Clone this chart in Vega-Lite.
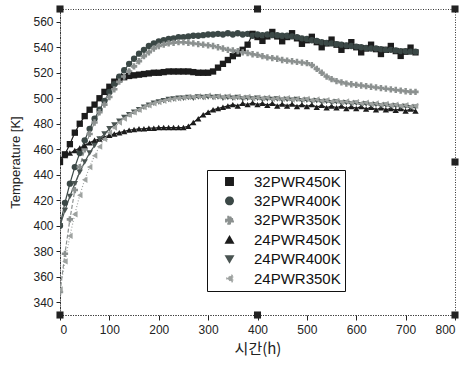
{
  "$schema": "https://vega.github.io/schema/vega-lite/v6.json",
  "width": 395,
  "height": 306,
  "autosize": {"type": "none"},
  "padding": {"left": 60, "top": 9, "right": 7, "bottom": 51},
  "background": "white",
  "config": {
    "font": "Liberation Sans, Noto Sans CJK KR",
    "view": {"stroke": "#333", "strokeDash": [1, 1.5], "strokeWidth": 1},
    "axis": {"domainColor": "#333", "domainDash": [1, 1.5], "tickColor": "#222", "labelColor": "#222", "titleColor": "#222", "grid": false, "labelFont": "Liberation Sans", "titleFontWeight": "normal", "labelOverlap": false},
    "axisY": {"labelOverlap": false}
  },
  "encoding": {
    "x": {"field": "t", "type": "quantitative", "scale": {"domain": [0, 800], "nice": false},
      "axis": {"values": [0,100,200,300,400,500,600,700,800], "title": "시간(h)", "titleFont": "Noto Sans CJK KR", "titleFontSize": 15, "labelFontSize": 12, "tickSize": 5, "labelPadding": 4, "titlePadding": 6, "labelOverlap": false}},
    "y": {"field": "temp", "type": "quantitative", "scale": {"domain": [330, 570], "nice": false, "zero": false},
      "axis": {"values": [340,360,380,400,420,440,460,480,500,520,540,560], "title": "Temperature [K]", "titleFontSize": 13, "labelFontSize": 12, "tickSize": 4, "labelPadding": 3, "titlePadding": 10, "labelOverlap": false, "labelFlush": false}}
  },
  "datasets": {
    "series": [
      {"t":0,"32PWR450K":450,"32PWR400K":400,"32PWR350K":348,"24PWR450K":453,"24PWR400K":400,"24PWR350K":350},
      {"t":10,"32PWR450K":456,"32PWR400K":418,"32PWR350K":378,"24PWR450K":455,"24PWR400K":412,"24PWR350K":372},
      {"t":20,"32PWR450K":464,"32PWR400K":433,"32PWR350K":405,"24PWR450K":457,"24PWR400K":423,"24PWR350K":392},
      {"t":30,"32PWR450K":473,"32PWR400K":446,"32PWR350K":428,"24PWR450K":459,"24PWR400K":433,"24PWR350K":409},
      {"t":40,"32PWR450K":480,"32PWR400K":457,"32PWR350K":446,"24PWR450K":461,"24PWR400K":442,"24PWR350K":424},
      {"t":50,"32PWR450K":486,"32PWR400K":467,"32PWR350K":460,"24PWR450K":463,"24PWR400K":450,"24PWR350K":436},
      {"t":60,"32PWR450K":491,"32PWR400K":476,"32PWR350K":472,"24PWR450K":465,"24PWR400K":457,"24PWR350K":446},
      {"t":70,"32PWR450K":495,"32PWR400K":484,"32PWR350K":481,"24PWR450K":467,"24PWR400K":463,"24PWR350K":455},
      {"t":80,"32PWR450K":500,"32PWR400K":491,"32PWR350K":489,"24PWR450K":468,"24PWR400K":468,"24PWR350K":462},
      {"t":90,"32PWR450K":505,"32PWR400K":498,"32PWR350K":495,"24PWR450K":469.5,"24PWR400K":472,"24PWR350K":468},
      {"t":100,"32PWR450K":509,"32PWR400K":505,"32PWR350K":501,"24PWR450K":471,"24PWR400K":476,"24PWR350K":473},
      {"t":110,"32PWR450K":513,"32PWR400K":511,"32PWR350K":507,"24PWR450K":472,"24PWR400K":479,"24PWR350K":477},
      {"t":120,"32PWR450K":515,"32PWR400K":517,"32PWR350K":513,"24PWR450K":473,"24PWR400K":482,"24PWR350K":481},
      {"t":130,"32PWR450K":516.5,"32PWR400K":522,"32PWR350K":517,"24PWR450K":474,"24PWR400K":485,"24PWR350K":484},
      {"t":140,"32PWR450K":517.5,"32PWR400K":527,"32PWR350K":521,"24PWR450K":475,"24PWR400K":487,"24PWR350K":487},
      {"t":150,"32PWR450K":518,"32PWR400K":531,"32PWR350K":525,"24PWR450K":475.5,"24PWR400K":489,"24PWR350K":489},
      {"t":160,"32PWR450K":518.5,"32PWR400K":535,"32PWR350K":529,"24PWR450K":476,"24PWR400K":491,"24PWR350K":491},
      {"t":170,"32PWR450K":519,"32PWR400K":538,"32PWR350K":533,"24PWR450K":476,"24PWR400K":493,"24PWR350K":493},
      {"t":180,"32PWR450K":519.5,"32PWR400K":541,"32PWR350K":536,"24PWR450K":476.5,"24PWR400K":494.5,"24PWR350K":494.5},
      {"t":190,"32PWR450K":520,"32PWR400K":543,"32PWR350K":539,"24PWR450K":476.5,"24PWR400K":496,"24PWR350K":496},
      {"t":200,"32PWR450K":520,"32PWR400K":544.5,"32PWR350K":541,"24PWR450K":477,"24PWR400K":497,"24PWR350K":497},
      {"t":210,"32PWR450K":520.5,"32PWR400K":545.5,"32PWR350K":542,"24PWR450K":477,"24PWR400K":498,"24PWR350K":498},
      {"t":220,"32PWR450K":521,"32PWR400K":546.5,"32PWR350K":543,"24PWR450K":477,"24PWR400K":499,"24PWR350K":499},
      {"t":230,"32PWR450K":521,"32PWR400K":547,"32PWR350K":543.5,"24PWR450K":477,"24PWR400K":499.5,"24PWR350K":499.5},
      {"t":240,"32PWR450K":521,"32PWR400K":548,"32PWR350K":544,"24PWR450K":477,"24PWR400K":500,"24PWR350K":500},
      {"t":250,"32PWR450K":521,"32PWR400K":548,"32PWR350K":544,"24PWR450K":477,"24PWR400K":500,"24PWR350K":500.5},
      {"t":260,"32PWR450K":521,"32PWR400K":548.5,"32PWR350K":543.5,"24PWR450K":478,"24PWR400K":500.5,"24PWR350K":501},
      {"t":270,"32PWR450K":520.5,"32PWR400K":549,"32PWR350K":543,"24PWR450K":481,"24PWR400K":500,"24PWR350K":501},
      {"t":280,"32PWR450K":520,"32PWR400K":549,"32PWR350K":542.5,"24PWR450K":484,"24PWR400K":501,"24PWR350K":501.5},
      {"t":290,"32PWR450K":520,"32PWR400K":549.5,"32PWR350K":542,"24PWR450K":487,"24PWR400K":500.5,"24PWR350K":501},
      {"t":300,"32PWR450K":520,"32PWR400K":550,"32PWR350K":541.5,"24PWR450K":489,"24PWR400K":501,"24PWR350K":502},
      {"t":310,"32PWR450K":521,"32PWR400K":550,"32PWR350K":541,"24PWR450K":491,"24PWR400K":500.5,"24PWR350K":501},
      {"t":320,"32PWR450K":524,"32PWR400K":550.5,"32PWR350K":540,"24PWR450K":492,"24PWR400K":501,"24PWR350K":501.5},
      {"t":330,"32PWR450K":527,"32PWR400K":550,"32PWR350K":539,"24PWR450K":493,"24PWR400K":500,"24PWR350K":501},
      {"t":340,"32PWR450K":530,"32PWR400K":551,"32PWR350K":538,"24PWR450K":494,"24PWR400K":500.5,"24PWR350K":501.5},
      {"t":350,"32PWR450K":533,"32PWR400K":550,"32PWR350K":537.5,"24PWR450K":495,"24PWR400K":500,"24PWR350K":500.5},
      {"t":360,"32PWR450K":535,"32PWR400K":551,"32PWR350K":537,"24PWR450K":494,"24PWR400K":500.5,"24PWR350K":501},
      {"t":370,"32PWR450K":538,"32PWR400K":550,"32PWR350K":536,"24PWR450K":496,"24PWR400K":499.5,"24PWR350K":500.5},
      {"t":380,"32PWR450K":542,"32PWR400K":550.5,"32PWR350K":535.5,"24PWR450K":495,"24PWR400K":500,"24PWR350K":501},
      {"t":390,"32PWR450K":550.5,"32PWR400K":549,"32PWR350K":534.5,"24PWR450K":496.5,"24PWR400K":499.5,"24PWR350K":500},
      {"t":400,"32PWR450K":548,"32PWR400K":550,"32PWR350K":534,"24PWR450K":495,"24PWR400K":500,"24PWR350K":500.5},
      {"t":410,"32PWR450K":545,"32PWR400K":549.5,"32PWR350K":533,"24PWR450K":496,"24PWR400K":499,"24PWR350K":500},
      {"t":420,"32PWR450K":548.5,"32PWR400K":550,"32PWR350K":532,"24PWR450K":494.5,"24PWR400K":499.5,"24PWR350K":500.5},
      {"t":430,"32PWR450K":552,"32PWR400K":549.5,"32PWR350K":531.5,"24PWR450K":496,"24PWR400K":499,"24PWR350K":499.5},
      {"t":440,"32PWR450K":548.5,"32PWR400K":549.5,"32PWR350K":531,"24PWR450K":494,"24PWR400K":499.5,"24PWR350K":500},
      {"t":450,"32PWR450K":544.7,"32PWR400K":549,"32PWR350K":530,"24PWR450K":495.5,"24PWR400K":498.5,"24PWR350K":499.5},
      {"t":460,"32PWR450K":548,"32PWR400K":549,"32PWR350K":529.5,"24PWR450K":494,"24PWR400K":499,"24PWR350K":500},
      {"t":470,"32PWR450K":551,"32PWR400K":548.5,"32PWR350K":529,"24PWR450K":495.5,"24PWR400K":498.5,"24PWR350K":499},
      {"t":480,"32PWR450K":547,"32PWR400K":548,"32PWR350K":528.5,"24PWR450K":493.5,"24PWR400K":499,"24PWR350K":499.5},
      {"t":490,"32PWR450K":542.7,"32PWR400K":547,"32PWR350K":528,"24PWR450K":495,"24PWR400K":498,"24PWR350K":499},
      {"t":500,"32PWR450K":545.5,"32PWR400K":546.5,"32PWR350K":527.5,"24PWR450K":493.5,"24PWR400K":498.5,"24PWR350K":499.5},
      {"t":510,"32PWR450K":548.2,"32PWR400K":545.5,"32PWR350K":526,"24PWR450K":495,"24PWR400K":497.5,"24PWR350K":498.5},
      {"t":520,"32PWR450K":544,"32PWR400K":545,"32PWR350K":523,"24PWR450K":493,"24PWR400K":498,"24PWR350K":499},
      {"t":530,"32PWR450K":540,"32PWR400K":544,"32PWR350K":520,"24PWR450K":494.5,"24PWR400K":497,"24PWR350K":498},
      {"t":540,"32PWR450K":543,"32PWR400K":543.5,"32PWR350K":517,"24PWR450K":492.5,"24PWR400K":497.5,"24PWR350K":498.5},
      {"t":550,"32PWR450K":546,"32PWR400K":543,"32PWR350K":515,"24PWR450K":494,"24PWR400K":496.5,"24PWR350K":497.5},
      {"t":560,"32PWR450K":542,"32PWR400K":542.5,"32PWR350K":513.5,"24PWR450K":492.5,"24PWR400K":497,"24PWR350K":498},
      {"t":570,"32PWR450K":538,"32PWR400K":542,"32PWR350K":512.5,"24PWR450K":494,"24PWR400K":496,"24PWR350K":497},
      {"t":580,"32PWR450K":541,"32PWR400K":541.5,"32PWR350K":511.5,"24PWR450K":492,"24PWR400K":496.5,"24PWR350K":497.5},
      {"t":590,"32PWR450K":544,"32PWR400K":541,"32PWR350K":511,"24PWR450K":493.5,"24PWR400K":495.5,"24PWR350K":496.5},
      {"t":600,"32PWR450K":540,"32PWR400K":540.5,"32PWR350K":510.5,"24PWR450K":492,"24PWR400K":496,"24PWR350K":497},
      {"t":610,"32PWR450K":536,"32PWR400K":540,"32PWR350K":510,"24PWR450K":493.5,"24PWR400K":495,"24PWR350K":496},
      {"t":620,"32PWR450K":539,"32PWR400K":539.5,"32PWR350K":509.5,"24PWR450K":491.5,"24PWR400K":495.5,"24PWR350K":496.5},
      {"t":630,"32PWR450K":542,"32PWR400K":539,"32PWR350K":509,"24PWR450K":493,"24PWR400K":494.5,"24PWR350K":495.5},
      {"t":640,"32PWR450K":538.5,"32PWR400K":539,"32PWR350K":508.5,"24PWR450K":491,"24PWR400K":495,"24PWR350K":496},
      {"t":650,"32PWR450K":534.7,"32PWR400K":538.5,"32PWR350K":508,"24PWR450K":492.5,"24PWR400K":494,"24PWR350K":495},
      {"t":660,"32PWR450K":538,"32PWR400K":538,"32PWR350K":507.5,"24PWR450K":491,"24PWR400K":494.5,"24PWR350K":495.5},
      {"t":670,"32PWR450K":541,"32PWR400K":538,"32PWR350K":507,"24PWR450K":492,"24PWR400K":493.5,"24PWR350K":494.5},
      {"t":680,"32PWR450K":537,"32PWR400K":537.5,"32PWR350K":506.5,"24PWR450K":490.5,"24PWR400K":494,"24PWR350K":495},
      {"t":690,"32PWR450K":533.2,"32PWR400K":537,"32PWR350K":506,"24PWR450K":492,"24PWR400K":493,"24PWR350K":494},
      {"t":700,"32PWR450K":536.5,"32PWR400K":537,"32PWR350K":505.5,"24PWR450K":490,"24PWR400K":493.5,"24PWR350K":494.5},
      {"t":710,"32PWR450K":539.7,"32PWR400K":536.5,"32PWR350K":505,"24PWR450K":491.5,"24PWR400K":492.5,"24PWR350K":493.5},
      {"t":720,"32PWR450K":536,"32PWR400K":536.5,"32PWR350K":505,"24PWR450K":490,"24PWR400K":493,"24PWR350K":494}
    ],
    "frame": [
      {"t":0,"temp":570},{"t":400,"temp":570},{"t":800,"temp":570},{"t":800,"temp":450},{"t":800,"temp":330},{"t":400,"temp":330},{"t":0,"temp":330}
    ]
  },
  "layer": [
    {
      "data": {"name": "series"},
      "transform": [{"fold": ["32PWR450K","32PWR400K","32PWR350K","24PWR450K","24PWR400K","24PWR350K"], "as": ["series","temp"]}],
      "mark": {"type": "line", "strokeWidth": 1.2, "clip": true},
      "encoding": {
        "color": {"field": "series", "type": "nominal",
          "scale": {"domain": ["32PWR450K","32PWR400K","32PWR350K","24PWR450K","24PWR400K","24PWR350K"], "range": ["#1c1c1c","#3b4846","#8c9190","#1c1c1c","#4a5452","#9ea2a0"]},
          "legend": {
            "title": null, "orient": "none", "legendX": 147, "legendY": 161,
            "strokeColor": "#111", "fillColor": "white", "padding": 4,
            "labelFontSize": 15, "labelColor": "#111", "labelFont": "Liberation Sans",
            "symbolSize": 55, "symbolOffset": 11, "labelOffset": 17, "rowPadding": 3.4
          }},
        "strokeDash": {"field": "series", "type": "nominal",
          "scale": {"domain": ["32PWR450K","32PWR400K","32PWR350K","24PWR450K","24PWR400K","24PWR350K"], "range": [[1,0],[1,0],[4,2],[1,0],[1,0],[1,2]]},
          "legend": null}
      }
    },
    {
      "data": {"name": "series"},
      "transform": [{"fold": ["32PWR450K","32PWR400K","32PWR350K","24PWR450K","24PWR400K","24PWR350K"], "as": ["series","temp"]}],
      "mark": {"type": "point", "filled": true, "size": 40, "opacity": 1, "clip": true},
      "encoding": {
        "color": {"field": "series", "type": "nominal", "legend": null},
        "shape": {"field": "series", "type": "nominal",
          "scale": {"domain": ["32PWR450K","32PWR400K","32PWR350K","24PWR450K","24PWR400K","24PWR350K"], "range": ["square","circle","cross","triangle-up","triangle-down","triangle-left"]},
          "legend": null}
      }
    },
    {
      "data": {"name": "frame"},
      "mark": {"type": "square", "size": 50, "color": "#222", "opacity": 1, "clip": false},
      "encoding": {}
    }
  ]
}
